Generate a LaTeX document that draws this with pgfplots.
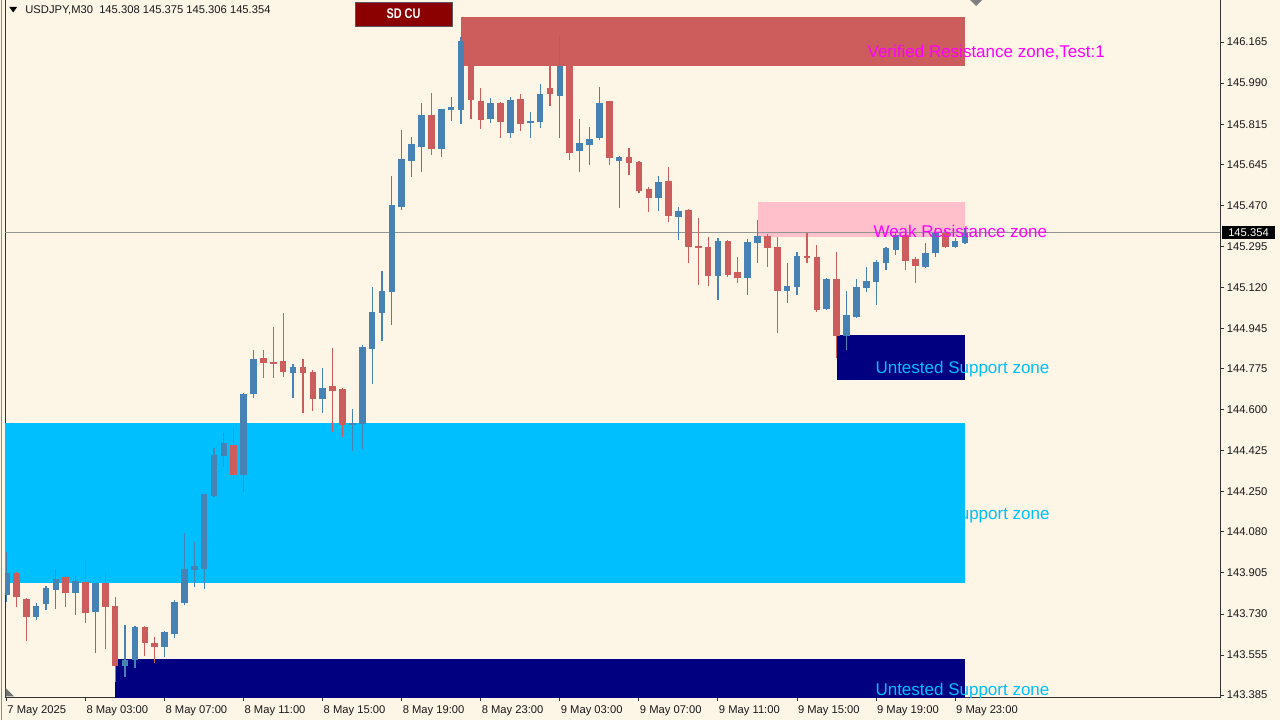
\documentclass[border=0pt]{standalone}
\usepackage{pgfplots}
\pgfplotsset{compat=1.18}
\usepackage{pgfplotstable}
\usepackage{fontspec}
\setmainfont{Liberation Sans}
\definecolor{bg}{RGB}{253,245,230}
\definecolor{bull}{RGB}{70,130,180}
\definecolor{bear}{RGB}{205,92,92}
\definecolor{resz}{RGB}{205,92,92}
\definecolor{weakz}{RGB}{255,192,203}
\definecolor{supz}{RGB}{0,191,255}
\definecolor{navyz}{RGB}{0,0,128}
\definecolor{mag}{RGB}{255,0,255}
\definecolor{sdred}{RGB}{139,0,0}
\newcommand\tickfont{\fontsize{5.6pt}{6pt}\selectfont}
\newcommand\zfont{\fontsize{8.5pt}{9pt}\selectfont}

\pgfplotstableread{
i o h l c
0 143.811 143.994 143.781 143.905
3 143.717 143.777 143.704 143.764
4 143.773 143.849 143.747 143.841
5 143.832 143.917 143.751 143.879
7 143.819 143.892 143.726 143.871
9 143.738 143.864 143.564 143.862
12 143.509 143.683 143.462 143.534
13 143.534 143.679 143.500 143.675
16 143.590 143.658 143.547 143.653
17 143.645 143.790 143.628 143.781
18 143.777 144.075 143.768 143.922
19 143.917 144.037 143.845 143.934
20 143.922 144.243 143.836 144.241
21 144.232 144.437 144.228 144.407
22 144.402 144.501 144.356 144.458
24 144.322 144.671 144.249 144.666
25 144.666 144.854 144.649 144.816
29 144.756 144.794 144.649 144.782
32 144.645 144.777 144.586 144.692
35 144.535 144.603 144.424 144.543
36 144.539 144.875 144.432 144.866
37 144.858 145.122 144.709 145.016
38 145.011 145.190 144.892 145.105
39 145.101 145.595 144.960 145.471
40 145.463 145.790 145.450 145.667
41 145.658 145.761 145.590 145.731
42 145.718 145.905 145.612 145.854
44 145.710 145.882 145.675 145.880
45 145.876 145.931 145.829 145.888
46 145.876 146.186 145.816 146.169
49 145.837 145.927 145.820 145.905
51 145.778 145.931 145.756 145.918
53 145.820 145.867 145.756 145.829
54 145.824 145.986 145.799 145.944
56 145.935 146.190 145.756 146.063
58 145.701 145.837 145.612 145.735
59 145.727 145.803 145.641 145.752
60 145.756 145.973 145.748 145.905
62 145.658 145.680 145.458 145.675
66 145.501 145.595 145.446 145.569
68 145.420 145.463 145.322 145.446
72 145.169 145.331 145.067 145.318
75 145.160 145.326 145.088 145.314
76 145.309 145.407 145.224 145.339
79 145.105 145.224 145.054 145.126
80 145.122 145.271 145.088 145.254
83 145.028 145.160 145.024 145.156
85 144.913 145.105 144.854 145.003
86 144.994 145.156 144.990 145.122
87 145.118 145.207 145.101 145.148
88 145.143 145.237 145.045 145.228
89 145.224 145.292 145.194 145.288
90 145.280 145.356 145.258 145.343
93 145.207 145.309 145.203 145.267
94 145.267 145.373 145.250 145.352
96 145.292 145.331 145.288 145.318
97 145.308 145.375 145.306 145.354
}\bulltab

\pgfplotstableread{
i o h l c
1 143.905 143.909 143.760 143.802
2 143.794 143.798 143.615 143.717
6 143.888 143.892 143.760 143.819
8 143.866 143.960 143.692 143.734
10 143.862 143.905 143.581 143.760
11 143.764 143.802 143.441 143.509
14 143.675 143.679 143.551 143.607
15 143.607 143.632 143.521 143.590
23 144.449 144.522 144.305 144.322
26 144.820 144.854 144.735 144.799
27 144.803 144.952 144.735 144.794
28 144.807 145.011 144.739 144.760
30 144.782 144.816 144.586 144.756
31 144.760 144.769 144.594 144.645
33 144.701 144.863 144.505 144.679
34 144.688 144.692 144.484 144.535
43 145.854 145.948 145.684 145.710
47 146.088 146.110 145.837 145.918
48 145.914 145.969 145.795 145.833
50 145.905 145.910 145.756 145.824
52 145.922 145.944 145.786 145.816
55 145.969 146.067 145.893 145.944
57 146.063 146.080 145.663 145.693
61 145.914 145.916 145.641 145.671
63 145.675 145.714 145.599 145.650
64 145.654 145.658 145.522 145.531
65 145.539 145.548 145.441 145.501
67 145.573 145.633 145.399 145.424
69 145.450 145.454 145.224 145.292
70 145.297 145.416 145.131 145.288
71 145.292 145.335 145.126 145.169
73 145.318 145.322 145.165 145.173
74 145.186 145.250 145.139 145.160
77 145.339 145.348 145.207 145.288
78 145.292 145.335 144.926 145.105
81 145.254 145.352 145.224 145.246
82 145.250 145.301 145.016 145.024
84 145.156 145.271 144.820 144.913
91 145.343 145.365 145.194 145.233
92 145.241 145.250 145.139 145.211
95 145.352 145.365 145.288 145.292
}\beartab

\begin{document}
\begin{tikzpicture}
\useasboundingbox (0pt,0pt) rectangle (640pt,360pt);
\fill[bg] (0pt,0pt) rectangle (640pt,360pt);
\draw[black!45, line width=0.5pt] (0.6pt,0pt) -- (0.6pt,360pt);
\begin{axis}[
  at={(2.5pt,11.5pt)}, anchor=south west,
  scale only axis, width=607.5pt, height=349.5pt,
  xmin=-0.15, xmax=122.8, ymin=143.3767, ymax=146.3523,
  axis line style={draw=black!80, line width=0.5pt},
  xtick={0,8,16,24,32,40,48,56,64,72,80,88,96},
  xticklabels={7 May 2025,8 May 03:00,8 May 07:00,8 May 11:00,8 May 15:00,8 May 19:00,8 May 23:00,9 May 03:00,9 May 07:00,9 May 11:00,9 May 15:00,9 May 19:00,9 May 23:00},
  ytick={146.165,145.990,145.815,145.645,145.470,145.295,145.120,144.945,144.775,144.600,144.425,144.250,144.080,143.905,143.730,143.555,143.385},
  yticklabels={146.165,145.990,145.815,145.645,145.470,145.295,145.120,144.945,144.775,144.600,144.425,144.250,144.080,143.905,143.730,143.555,143.385},
  xtick pos=bottom, ytick pos=right, yticklabel pos=right,
  tick align=outside, major tick length=2pt,
  tick style={draw=black!80, line width=0.5pt},
  xticklabel style={anchor=north west, inner sep=0pt, font=\tickfont, text=black!90, xshift=0.3pt, yshift=-2pt},
  yticklabel style={anchor=west, inner sep=0pt, font=\tickfont, text=black!90, xshift=1.2pt},
]
% zones
\fill[resz] (axis cs:46,146.271) rectangle (axis cs:97,146.063);
\fill[weakz] (axis cs:76,145.484) rectangle (axis cs:97,145.335);
\fill[navyz] (axis cs:84,144.918) rectangle (axis cs:97,144.726);
\fill[supz] (axis cs:-5,144.543) rectangle (axis cs:97,143.862);
\fill[navyz] (axis cs:11,143.538) rectangle (axis cs:97,143.200);
% current price line
\draw[black!42, line width=0.5pt] (axis cs:-5,145.354) -- (axis cs:130,145.354);
% wicks
\addplot[draw=none, mark=none, forget plot, error bars/.cd, y dir=both, y explicit, error mark=none,
  error bar style={draw=bull, solid, line width=0.6pt}]
  table[x=i, y expr={(\thisrow{h}+\thisrow{l})/2}, y error expr={(\thisrow{h}-\thisrow{l})/2}] {\bulltab};
\addplot[draw=none, mark=none, forget plot, error bars/.cd, y dir=both, y explicit, error mark=none,
  error bar style={draw=bear, solid, line width=0.6pt}]
  table[x=i, y expr={(\thisrow{h}+\thisrow{l})/2}, y error expr={(\thisrow{h}-\thisrow{l})/2}] {\beartab};
% bodies
\addplot[draw=none, mark=none, forget plot, error bars/.cd, y dir=both, y explicit, error mark=none,
  error bar style={draw=bull, solid, line width=3.3pt}]
  table[x=i, y expr={(\thisrow{o}+\thisrow{c})/2}, y error expr={max(abs(\thisrow{c}-\thisrow{o})/2,0.0012)}] {\bulltab};
\addplot[draw=none, mark=none, forget plot, error bars/.cd, y dir=both, y explicit, error mark=none,
  error bar style={draw=bear, solid, line width=3.3pt}]
  table[x=i, y expr={(\thisrow{o}+\thisrow{c})/2}, y error expr={max(abs(\thisrow{o}-\thisrow{c})/2,0.0012)}] {\beartab};
% zone labels
\node[anchor=west, inner sep=0pt, text=mag, font=\zfont] at (axis cs:87.1,146.122) {Verified Resistance zone,Test:1};
\node[anchor=west, inner sep=0pt, text=mag, font=\zfont] at (axis cs:87.7,145.360) {Weak Resistance zone};
\node[anchor=west, inner sep=0pt, text=supz, font=\zfont] at (axis cs:87.9,144.773) {Untested Support zone};
\node[anchor=east, inner sep=0pt, text=supz, font=\zfont] at (axis cs:105.6,144.151) {Verified Support zone};
\node[anchor=west, inner sep=0pt, text=supz, font=\zfont] at (axis cs:87.9,143.402) {Untested Support zone};
\coordinate (pl) at (axis cs:122.8,145.354);
\end{axis}
% price box
\node[fill=black, text=white, anchor=west, inner sep=0pt, minimum width=26.5pt, minimum height=6.5pt, font=\tickfont] at ([xshift=0.8pt]pl) {145.354};
% header
\fill[black] (4.6pt,356.6pt) -- (8.6pt,356.6pt) -- (6.6pt,353.8pt) -- cycle;
\node[anchor=west, inner sep=0pt, font=\tickfont, text=black!90] at (12.5pt,354.6pt) {USDJPY,M30\ \ 145.308 145.375 145.306 145.354};
% SD CU button
\fill[sdred] (177.5pt,359pt) rectangle (226pt,347pt);
\draw[black!65, line width=0.5pt] (177.5pt,359pt) rectangle (226pt,347pt);
\node[text=white, inner sep=0pt, font=\bfseries\fontsize{7pt}{7.5pt}\selectfont, transform shape, xscale=0.78] at (201.75pt,353pt) {SD CU};
% shift marker and corner triangle
\fill[black!50] (485pt,360pt) -- (491pt,360pt) -- (488pt,357pt) -- cycle;
\fill[black!55] (2.8pt,11.8pt) -- (7pt,11.8pt) -- (2.8pt,16pt) -- cycle;
\end{tikzpicture}
\end{document}
